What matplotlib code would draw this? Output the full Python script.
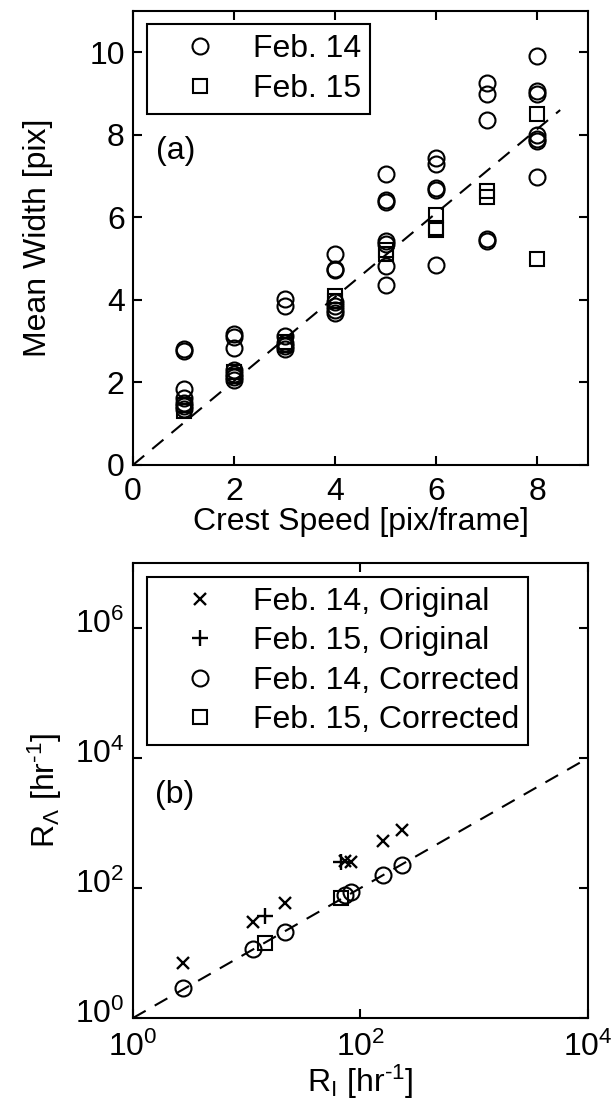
import numpy as np
import matplotlib
matplotlib.use("Agg")
import matplotlib.pyplot as plt
from matplotlib.ticker import NullLocator
from matplotlib.transforms import ScaledTranslation

plt.rcParams['font.family'] = ['Liberation Sans', 'DejaVu Sans']
plt.rcParams['mathtext.fontset'] = 'custom'
plt.rcParams['mathtext.rm'] = 'Liberation Sans'
plt.rcParams['mathtext.it'] = 'Liberation Sans:italic'
plt.rcParams['mathtext.bf'] = 'Liberation Sans:bold'
plt.rcParams['mathtext.default'] = 'regular'

FS = 23

# ---------------- Panel (a) data ----------------
feb14_speed = ([1]*7 + [2]*7 + [3]*6 + [4]*7 + [5]*7 + [6]*5 + [7]*5 + [8]*7)
feb14_width = [2.82, 2.75, 1.85, 1.62, 1.50, 1.42, 1.35,
               3.18, 3.10, 2.83, 2.30, 2.20, 2.12, 2.05,
               4.02, 3.85, 3.12, 2.95, 2.88, 2.82,
               5.12, 4.72, 4.75, 3.95, 3.85, 3.75, 3.68,
               7.05, 6.42, 6.36, 5.42, 5.36, 4.82, 4.35,
               7.45, 7.30, 6.72, 6.66, 4.85,
               9.25, 8.98, 8.35, 5.48, 5.42,
               9.90, 9.05, 9.00, 8.00, 7.90, 7.85, 6.98]
feb15_speed = [1, 1, 2, 2, 3, 3, 4, 4, 5, 5, 6, 6, 6, 7, 7, 8, 8]
feb15_width = [1.30, 1.45, 2.25, 2.15, 2.98, 2.90, 4.10, 3.98,
               5.20, 5.10, 6.05, 5.75, 5.70, 6.65, 6.50, 8.50, 5.00]
fit_a_x = [0, 8.45]
fit_a_y = [0, 8.6]

# ---------------- Panel (b) data ----------------
feb14_RI = [2.77, 11.3, 21.7, 73, 82, 158, 230]
feb14_RL_orig = [6.9, 30.3, 59.4, 265, 255, 534, 780]
feb14_RL_corr = [2.86, 11.4, 21.3, 78, 87.7, 158, 226]
feb15_RI = [14.5, 67]
feb15_RL_orig = [37, 254]
feb15_RL_corr = [14.4, 69]
fit_b_x = [1, 1e4]
fit_b_y = [1, 1e4]

fig = plt.figure(figsize=(6.14, 11.11), dpi=100)
ax1 = fig.add_axes([0.2166, 0.5815, 0.741, 0.4086])
ax2 = fig.add_axes([0.2166, 0.0837, 0.741, 0.4095])

dash = (0, (7, 5))
lw = 1.5

for ax in (ax1, ax2):
    for s in ax.spines.values():
        s.set_linewidth(lw)
    ax.tick_params(direction='in', length=6.5, width=lw, labelsize=FS,
                   top=True, right=True, pad=6)
ax1.tick_params(axis='x', pad=9)
ax2.tick_params(axis='x', pad=10)

# Panel (a)
ax1.plot(fit_a_x, fit_a_y, color='black', lw=lw, linestyle=dash, zorder=1)
ax1.plot(feb14_speed, feb14_width, linestyle='none', marker='o', ms=11.5,
         mfc='none', mec='black', mew=1.5, label='Feb. 14')
ax1.plot(feb15_speed, feb15_width, linestyle='none', marker='s', ms=9.5,
         mfc='none', mec='black', mew=1.5, label='Feb. 15')
ax1.set_xlim(0, 9)
ax1.set_ylim(0, 11)
ax1.set_xticks([0, 2, 4, 6, 8])
ax1.set_yticks([0, 2, 4, 6, 8, 10])
ax1.set_xlabel('Crest Speed [pix/frame]', fontsize=FS, labelpad=0)
ax1.set_ylabel('Mean Width [pix]', fontsize=FS, labelpad=26)
ax1.text(0.45, 7.6, '(a)', fontsize=FS, va='center', ha='left')
leg1 = ax1.legend(loc='upper left', bbox_to_anchor=(0.031, 0.971),
                  borderaxespad=0, fontsize=FS, fancybox=False,
                  edgecolor='black', framealpha=1, numpoints=1,
                  handlelength=2.7, handletextpad=0.3, labelspacing=0.32,
                  borderpad=0.3)
leg1.get_frame().set_linewidth(lw)

# Panel (b)
ax2.set_xscale('log')
ax2.set_yscale('log')
ax2.plot(fit_b_x, fit_b_y, color='black', lw=lw, linestyle=dash, zorder=1)
ax2.plot(feb14_RI, feb14_RL_orig, linestyle='none', marker='x', ms=8,
         mec='black', mew=1.7, label='Feb. 14, Original')
ax2.plot(feb15_RI, feb15_RL_orig, linestyle='none', marker='+', ms=12,
         mec='black', mew=1.7, label='Feb. 15, Original')
ax2.plot(feb14_RI, feb14_RL_corr, linestyle='none', marker='o', ms=11.5,
         mfc='none', mec='black', mew=1.5, label='Feb. 14, Corrected')
ax2.plot(feb15_RI, feb15_RL_corr, linestyle='none', marker='s', ms=9.5,
         mfc='none', mec='black', mew=1.5, label='Feb. 15, Corrected')
ax2.set_xlim(1, 1e4)
ax2.set_ylim(1, 1e7)
ax2.set_xticks([1, 1e2, 1e4])
ax2.set_yticks([1, 1e2, 1e4, 1e6])
ax2.xaxis.set_minor_locator(NullLocator())
ax2.yaxis.set_minor_locator(NullLocator())
ax2.set_xlabel(r'R$_{\mathrm{I}}$ [hr$^{\text{-1}}$]', fontsize=FS, labelpad=0)
ax2.set_ylabel(r'R$_{\mathrm{\Lambda}}$ [hr$^{\text{-1}}$]', fontsize=FS, labelpad=8)
ax2.text(1.56, 2700, '(b)', fontsize=FS, va='center', ha='left')
leg2 = ax2.legend(loc='upper left', bbox_to_anchor=(0.031, 0.969),
                  borderaxespad=0, fontsize=FS, fancybox=False,
                  edgecolor='black', framealpha=1, numpoints=1,
                  handlelength=2.7, handletextpad=0.3, labelspacing=0.3,
                  borderpad=0.3)
leg2.get_frame().set_linewidth(lw)

# lift the y tick labels of the log panel so the digits sit on the ticks
shift = ScaledTranslation(0, 5 / 72, fig.dpi_scale_trans)
for lab in ax2.get_yticklabels():
    lab.set_transform(lab.get_transform() + shift)

fig.savefig('out.png', dpi=100)
